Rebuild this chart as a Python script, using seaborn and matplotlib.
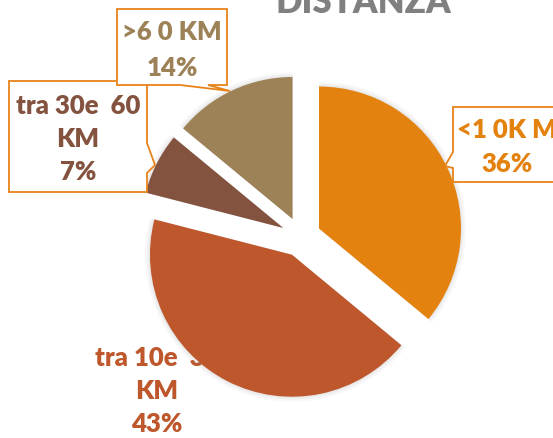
import matplotlib
matplotlib.use("Agg")
import matplotlib.pyplot as plt
from matplotlib.patches import Polygon
import seaborn as sns

# ---- data ----
categories = ["<1 0K M", "tra 10e  30\nKM", "tra 30e  60\nKM", ">6 0 KM"]
values = [36, 43, 7, 14]
pct_labels = ["36%", "43%", "7%", "14%"]
title = "DISTANZA"

colors = sns.color_palette(["#E3820F", "#BE572B", "#845340", "#9C8256"])
box_color = "#E8831A"

sns.set_theme(style="white")
plt.rcParams["font.family"] = ["Lato", "DejaVu Sans"]

W, H = 553, 438
fig = plt.figure(figsize=(W / 100, H / 100), dpi=100)
ax = fig.add_axes([0, 0, 1, 1])

R = 142.0
cx, cy = 301.0, 237.0

# soft shadow
for k, a in [(1.035, 0.05), (1.02, 0.06), (1.008, 0.08)]:
    ax.pie(values, startangle=90, counterclock=False, radius=k,
           explode=[0.14] * 4, colors=["#808080"] * 4,
           wedgeprops=dict(alpha=a, linewidth=0, zorder=2))
wedges, _ = ax.pie(values, startangle=90, counterclock=False, radius=1.0,
                   explode=[0.14] * 4, colors=colors,
                   wedgeprops=dict(linewidth=0, zorder=3))
for w in wedges:
    w.set_zorder(3)

ax.set_xlim(-cx / R, (W - cx) / R)
ax.set_ylim(-(H - cy) / R, cy / R)
ax.set_aspect("equal")
ax.axis("off")

tf = fig.transFigure


def P(x, y):
    return (x / W, 1 - y / H)


def callout(pts, z):
    poly = Polygon([P(*p) for p in pts], closed=True, transform=tf,
                   facecolor="white", edgecolor=box_color, linewidth=1.3,
                   zorder=z)
    fig.add_artist(poly)


fs = 18.5
fw = "heavy"
# 7% box (below the 14% box)
callout([(9, 81), (147, 81), (147, 143), (155, 165), (147, 173), (147, 192), (9, 192)], 5)
# 14% box
callout([(117, 9), (227, 9), (227, 85), (208, 85), (230, 91), (180, 85), (117, 85)], 6)
# 36% box
callout([(453, 107), (565, 107), (565, 182), (453, 182), (453, 168), (445, 166), (453, 152)], 5)


def label(x, y, s, c, ls, z=7):
    fig.text(*P(x, y), s, transform=tf, ha="center", va="center",
             fontsize=fs, fontweight=fw, color=c, zorder=z,
             linespacing=ls)


label(78, 139, categories[2] + "\n" + pct_labels[2], colors[2], 1.45)
label(172, 50, categories[3] + "\n" + pct_labels[3], colors[3], 1.55)
label(507, 147, categories[0] + "\n" + pct_labels[0], colors[0], 1.52)
# 43% label sits beneath the pie
ax.text((157 - cx) / R, (cy - 391) / R, categories[1] + "\n" + pct_labels[1],
        ha="center", va="center", fontsize=fs, fontweight=fw,
        color=colors[1], zorder=1, linespacing=1.45)

fig.text(*P(363, 13), title, transform=tf, ha="center", va="baseline",
         fontsize=25, fontweight="heavy", color="#808080")

fig.savefig("out.png", dpi=100)
